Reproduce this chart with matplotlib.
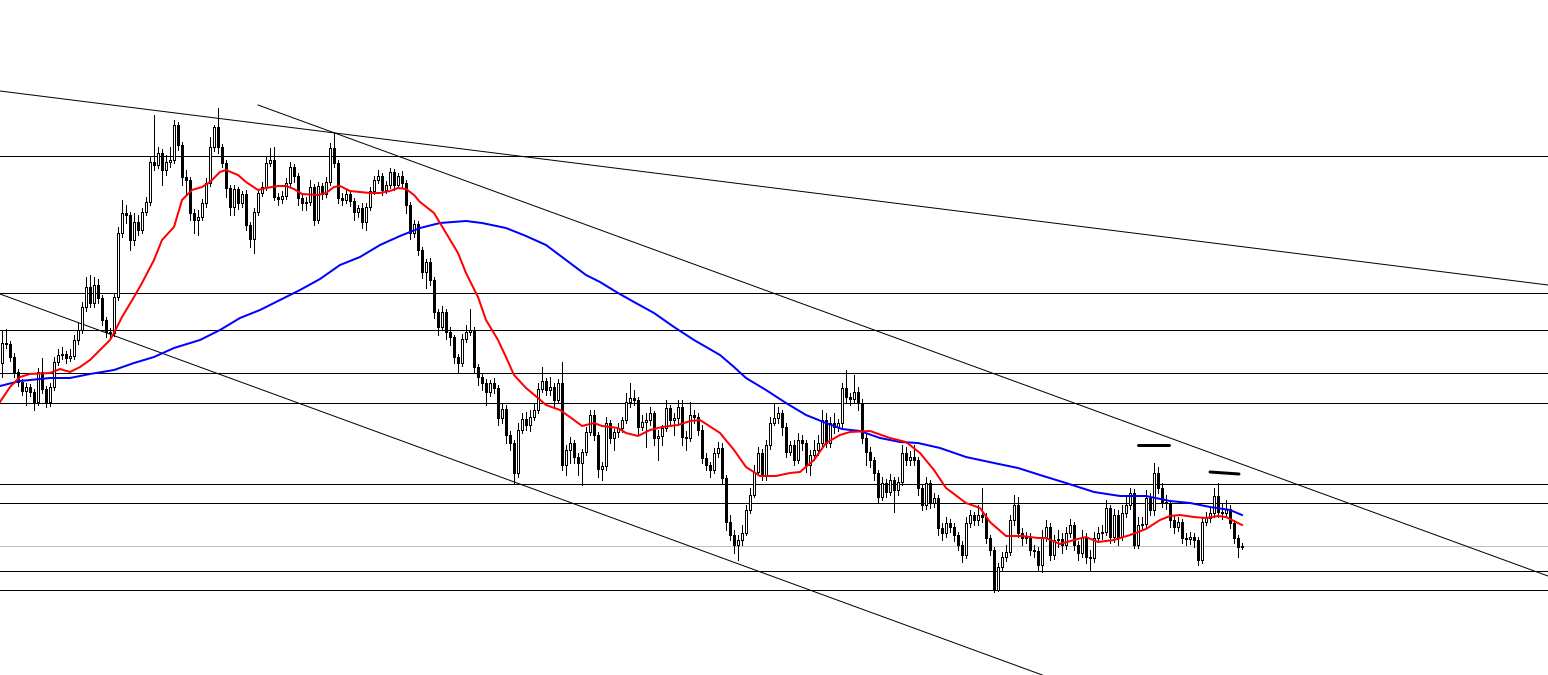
import numpy as np
import matplotlib
matplotlib.use("Agg")
import matplotlib.pyplot as plt

# candle closes / highs / lows (price in pips above chart floor), one per bar
closes = [
    332, 331, 318, 303, 293, 284, 288, 283, 273, 303,
    286, 273, 288, 313, 320, 321, 317, 319, 335, 345,
    368, 388, 372, 390, 377, 355, 343, 342, 378, 442,
    462, 460, 435, 453, 445, 463, 473, 513, 510, 522,
    505, 513, 515, 550, 530, 498, 495, 462, 455, 458,
    472, 492, 528, 548, 528, 512, 487, 468, 486, 472,
    481, 450, 436, 463, 482, 488, 512, 515, 478, 476,
    479, 492, 508, 499, 477, 472, 473, 488, 455, 489,
    481, 493, 527, 512, 477, 475, 481, 474, 463, 467,
    453, 468, 484, 495, 499, 485, 490, 503, 490, 499,
    492, 470, 442, 451, 425, 403, 413, 395, 363, 348,
    363, 343, 338, 318, 312, 336, 343, 345, 308, 298,
    292, 283, 292, 287, 257, 266, 240, 232, 202, 245,
    256, 250, 258, 265, 286, 294, 285, 288, 275, 292,
    210, 225, 232, 218, 212, 223, 243, 260, 240, 206,
    209, 252, 237, 243, 247, 255, 273, 277, 275, 248,
    253, 255, 262, 237, 239, 247, 267, 255, 257, 268,
    238, 237, 260, 258, 245, 217, 210, 205, 222, 227,
    197, 153, 140, 130, 135, 142, 165, 180, 203, 222,
    200, 230, 252, 257, 262, 248, 223, 230, 215, 235,
    232, 210, 220, 225, 232, 255, 232, 252, 248, 252,
    287, 278, 276, 283, 272, 237, 223, 215, 202, 178,
    192, 183, 195, 185, 193, 222, 215, 218, 215, 187,
    170, 192, 172, 177, 147, 142, 152, 148, 140, 130,
    120, 152, 160, 155, 160, 158, 137, 125, 85, 108,
    118, 123, 155, 170, 142, 137, 138, 125, 124, 110,
    138, 148, 120, 135, 136, 130, 142, 150, 130, 122,
    138, 118, 117, 137, 142, 143, 167, 138, 160, 138,
    162, 170, 182, 130, 150, 151, 177, 165, 202, 187,
    173, 172, 155, 148, 153, 137, 136, 138, 135, 115,
    153, 157, 162, 179, 163, 162, 166, 152, 137, 128,
    129,
]

highs = [
    345, 346, 334, 322, 306, 296, 292, 291, 286, 307,
    317, 289, 292, 318, 326, 328, 324, 326, 340, 352,
    373, 398, 400, 398, 396, 380, 358, 347, 382, 448,
    475, 470, 463, 462, 460, 467, 478, 518, 560, 528,
    526, 520, 528, 555, 553, 533, 505, 498, 466, 465,
    476, 497, 538, 550, 567, 531, 515, 490, 490, 488,
    484, 485, 453, 467, 486, 493, 518, 527, 528, 482,
    484, 497, 513, 511, 502, 480, 478, 495, 491, 493,
    492, 498, 532, 542, 515, 482, 485, 484, 477, 470,
    472, 472, 488, 499, 505, 502, 494, 507, 506, 502,
    504, 495, 473, 455, 454, 428, 416, 417, 398, 366,
    369, 366, 348, 340, 321, 341, 350, 366, 348, 311,
    302, 296, 295, 297, 290, 272, 270, 244, 235, 252,
    262, 263, 265, 272, 292, 308, 297, 298, 292, 296,
    313, 230, 238, 235, 222, 226, 248, 265, 265, 243,
    213, 258, 255, 246, 252, 258, 282, 292, 285, 278,
    260, 262, 268, 264, 245, 250, 275, 270, 262, 275,
    275, 244, 273, 265, 262, 250, 222, 213, 227, 233,
    232, 200, 160, 145, 140, 150, 170, 187, 210, 228,
    226, 235, 258, 272, 268, 265, 252, 234, 235, 242,
    240, 235, 225, 235, 240, 265, 262, 258, 262, 256,
    292, 305, 282, 300, 288, 276, 242, 228, 218, 205,
    198, 196, 201, 198, 198, 230, 228, 224, 230, 218,
    190, 198, 195, 182, 180, 152, 158, 156, 152, 143,
    134, 158, 165, 163, 170, 187, 162, 140, 128, 112,
    123, 130, 160, 180, 178, 147, 143, 142, 130, 128,
    145, 155, 152, 140, 145, 142, 148, 156, 153, 134,
    145, 142, 125, 143, 148, 150, 175, 170, 166, 165,
    170, 178, 187, 186, 158, 158, 185, 182, 212, 208,
    192, 180, 175, 160, 158, 156, 142, 143, 142, 138,
    158, 163, 168, 187, 192, 172, 175, 170, 155, 140,
    132,
]

lows = [
    298, 327, 314, 298, 289, 280, 270, 279, 265, 270,
    282, 268, 269, 285, 310, 316, 312, 314, 316, 331,
    342, 364, 368, 368, 372, 350, 338, 337, 339, 375,
    438, 452, 425, 430, 440, 442, 460, 470, 505, 507,
    490, 500, 508, 512, 525, 490, 480, 455, 442, 440,
    455, 468, 489, 524, 522, 508, 478, 460, 460, 466,
    468, 445, 428, 422, 460, 479, 485, 509, 475, 470,
    472, 476, 488, 493, 470, 465, 465, 470, 450, 452,
    476, 478, 490, 508, 472, 470, 472, 469, 455, 458,
    447, 445, 465, 481, 492, 480, 482, 487, 485, 487,
    488, 462, 436, 438, 420, 397, 387, 390, 357, 340,
    345, 336, 330, 312, 302, 309, 333, 340, 303, 290,
    285, 270, 279, 282, 250, 252, 232, 225, 192, 198,
    242, 245, 244, 255, 262, 283, 280, 280, 268, 272,
    205, 200, 212, 212, 200, 190, 220, 240, 235, 198,
    195, 205, 232, 225, 238, 243, 252, 268, 270, 240,
    245, 228, 250, 230, 215, 230, 244, 250, 240, 250,
    230, 225, 234, 252, 240, 212, 205, 198, 202, 218,
    192, 145, 135, 122, 115, 130, 140, 162, 178, 200,
    195, 195, 226, 250, 252, 240, 218, 220, 210, 212,
    225, 203, 200, 215, 220, 228, 228, 228, 242, 244,
    248, 272, 270, 272, 265, 232, 210, 208, 195, 172,
    175, 178, 180, 163, 180, 190, 210, 210, 210, 180,
    165, 166, 167, 168, 140, 135, 138, 143, 134, 125,
    113, 117, 148, 150, 150, 153, 132, 120, 83, 84,
    104, 114, 120, 150, 138, 130, 132, 120, 118, 105,
    103, 134, 115, 116, 128, 122, 126, 138, 125, 115,
    118, 112, 105, 113, 133, 136, 140, 132, 133, 130,
    135, 158, 166, 127, 127, 146, 148, 160, 160, 182,
    168, 166, 148, 142, 144, 132, 130, 131, 128, 110,
    112, 150, 153, 158, 158, 156, 158, 147, 132, 118,
    126,
]

first_open = 312

# fast moving average (red), read at bar positions
fast_ma_x = [-0.5, 2, 4.5, 7, 12, 14.5, 17, 19.5, 22, 24.5, 27, 28, 30, 33, 35, 38, 40, 43, 45,
             47.5, 50, 52, 54.5, 56, 59, 61, 64, 66, 69, 71, 73, 75, 79, 81, 83, 84.5, 87, 89.5,
             92, 94.5, 97, 99, 101, 103, 104.5, 108, 111, 114, 116, 119, 121, 124, 126, 128, 131,
             134, 136, 139.5, 143, 145, 148, 150, 154, 156, 159, 162, 165, 169, 172, 174.5, 179.5,
             183, 186, 189.5, 193.5, 197, 199.5, 203, 206, 209.5, 212, 217, 222, 226, 229.5, 233,
             236, 241, 244.5, 247, 251, 255, 259, 261, 264.5, 268, 271, 274, 278, 282, 286, 289.5,
             292, 294.5, 298, 301, 304, 306, 308, 310]
fast_ma = [273, 288, 298, 301, 302, 306, 303, 308, 315, 325, 335, 342, 358, 378, 392, 415, 435, 448, 475,
           485, 488, 493, 503, 505, 500, 493, 485, 487, 489, 489, 486, 481, 480, 482, 488, 489, 484, 483,
           482, 482, 484, 487, 486, 480, 473, 462, 442, 422, 402, 378, 355, 335, 318, 300, 287,
           277, 270, 265, 255, 249, 252, 249, 247, 242, 239, 245, 248, 250, 254, 255, 242,
           225, 208, 199, 199, 202, 203, 215, 232, 240, 243, 244, 237, 233, 222, 205,
           187, 172, 167, 153, 139, 139, 137, 137, 131, 135, 138, 133, 135, 140, 146, 155,
           159, 160, 158, 157, 159, 158, 154, 150]

# slow moving average (blue)
slow_ma_x = [-0.5, 4.5, 12, 17, 22, 28, 33, 38, 43, 49.5, 54.5, 59.5, 64.5, 69.5, 74.5, 79.5, 84.5,
             89.5, 94.5, 99.5, 104.5, 109.5, 116, 120, 126, 131, 136, 141, 146, 149.5, 154, 158,
             163, 168, 173, 179.5, 183, 186, 191, 196, 201, 206, 210, 214.5, 219.5, 224.5, 229,
             234.5, 241, 248, 254, 259.5, 266, 273, 279.5, 286, 292, 297, 302, 307, 310]
slow_ma = [289, 294, 297, 297, 301, 305, 312, 318, 327, 335, 345, 357, 365, 375, 385, 396, 410,
           418, 430, 439, 447, 452, 454, 452, 447, 439, 430, 415, 400, 393, 382, 373,
           362, 348, 335, 320, 308, 297, 285, 272, 260, 252, 246, 244, 237, 233, 232,
           227, 218, 212, 207, 200, 192, 183, 179, 179, 174, 172, 168, 165, 160]

# horizontal levels drawn on the chart
levels = [519, 382, 345, 302, 272, 191, 172, 104, 85]
grey_level = 129

# trend lines as (bar, price) end points
trend_lines = [
    ((-0.5, 584), (386.5, 390)),
    ((64, 570), (386.5, 99)),
    ((-0.5, 381), (260.75, -1)),
]

# two short thick marks near the last highs
marks = [
    ((284, 230), (291.75, 230)),
    ((302, 203), (309.25, 201)),
]

PX = 0.72  # one pixel in points at dpi 100


def draw_candles(ax, opens, highs, lows, closes):
    idx = np.arange(len(closes))
    o = np.array(opens, dtype=float)
    c = np.array(closes, dtype=float)
    h = np.array(highs, dtype=float)
    l = np.array(lows, dtype=float)
    top = np.maximum(o, c)
    bot = np.minimum(o, c)

    # wicks
    ax.vlines(idx, np.minimum(l, bot), np.maximum(h, top), color='black',
              linewidth=PX, zorder=2, antialiased=False)

    # bodies, hollow when price went up
    bull = c > o
    face = np.where(bull, 'white', 'black')
    height = np.maximum(top - bot, 0.4)
    ax.bar(idx, height, bottom=bot, width=0.5, color=face, edgecolor='black',
           linewidth=PX, zorder=3, antialiased=False)


def main():
    fig = plt.figure(figsize=(15.48, 6.75), dpi=100)
    fig.patch.set_facecolor('white')
    ax = fig.add_axes([0, 0, 1, 1])
    ax.set_xlim(-0.5, 386.5)
    ax.set_ylim(0, 675)
    ax.axis('off')

    for lv in levels:
        ax.axhline(lv, color='black', linewidth=PX, zorder=1, antialiased=False)
    ax.axhline(grey_level, color='#c0c0c0', linewidth=PX, zorder=1, antialiased=False)

    for (x0, y0), (x1, y1) in trend_lines:
        ax.plot([x0, x1], [y0, y1], color='black', linewidth=PX, zorder=1)

    opens = [first_open] + closes[:-1]
    draw_candles(ax, opens, highs, lows, closes)

    ax.plot(slow_ma_x, slow_ma, color='#0000ff', linewidth=2 * PX, zorder=4)
    ax.plot(fast_ma_x, fast_ma, color='#ff0000', linewidth=2 * PX, zorder=4)

    for (x0, y0), (x1, y1) in marks:
        ax.plot([x0, x1], [y0, y1], color='black', linewidth=3 * PX, zorder=5,
                solid_capstyle='round')

    fig.savefig('out.png', dpi=100, facecolor='white')


if __name__ == "__main__":
    main()
